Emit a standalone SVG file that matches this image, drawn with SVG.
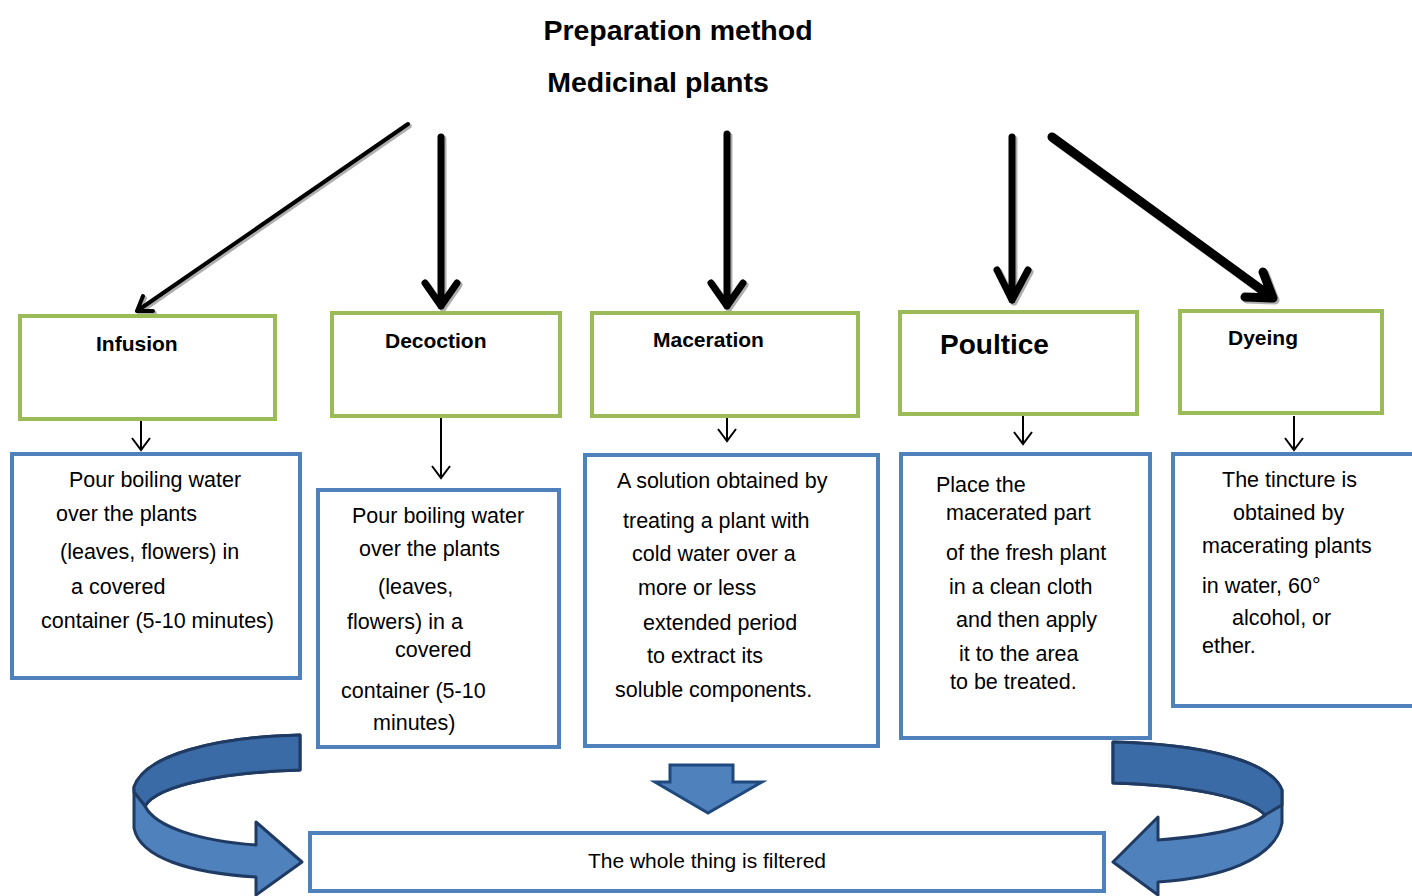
<svg xmlns="http://www.w3.org/2000/svg" width="1412" height="896" viewBox="0 0 1412 896">
<style>
.t{font-family:"Liberation Sans",Arial,sans-serif;font-size:21.5px;fill:#000}
.h{font-family:"Liberation Sans",Arial,sans-serif;font-weight:bold;font-size:21px;fill:#000}
.ttl{font-family:"Liberation Sans",Arial,sans-serif;font-weight:bold;font-size:28.5px;fill:#000}
.g{fill:#fff;stroke:#9bbb59;stroke-width:4}
.b{fill:#fff;stroke:#4f81bd;stroke-width:4}
.big{fill:none;stroke:#000;stroke-linecap:round;stroke-linejoin:round}
.sh{fill:none;stroke:#9a9a9a;stroke-linecap:round;stroke-linejoin:round;opacity:.8}
.sm{fill:none;stroke:#000;stroke-width:2}
.lt{fill:#4f81bd;stroke:#1f3b63;stroke-width:3;stroke-linejoin:round}
.dk{fill:#3b6ba6;stroke:#1f3b63;stroke-width:3;stroke-linejoin:round}
</style>
<rect width="1412" height="896" fill="#fff"/>
<text class="ttl" x="678" y="40" text-anchor="middle">Preparation method</text>
<text class="ttl" x="658" y="92" text-anchor="middle">Medicinal plants</text>

<g id="connectors">
  <g transform="translate(2,2)">
    <path class="sh" stroke-width="4" d="M408,124 L137,311 M143,296 L137,311 L153,311"/>
    <path class="sh" stroke-width="7" d="M441,137 L441,306 M425,283 L441,306 L457,283"/>
    <path class="sh" stroke-width="7" d="M727,134 L727,306 M711,283 L727,306 L743,283"/>
    <path class="sh" stroke-width="7" d="M1012,137 L1012,300 M997,270 L1012,300 L1028,270"/>
    <path class="sh" stroke-width="9" d="M1052,137 L1273,298 M1245,297 L1273,298 L1263,272"/>
  </g>
  <path class="big" stroke-width="4" d="M408,124 L137,311 M143,296 L137,311 L153,311"/>
  <path class="big" stroke-width="7" d="M441,137 L441,306 M425,283 L441,306 L457,283"/>
  <path class="big" stroke-width="7" d="M727,134 L727,306 M711,283 L727,306 L743,283"/>
  <path class="big" stroke-width="7" d="M1012,137 L1012,300 M997,270 L1012,300 L1028,270"/>
  <path class="big" stroke-width="9" d="M1052,137 L1273,298 M1245,297 L1273,298 L1263,272"/>

  <path class="sm" d="M141,421 L141,450 M132,438 L141,450 L150,438"/>
  <path class="sm" d="M441,418 L441,478 M432,466 L441,478 L450,466"/>
  <path class="sm" d="M727,408 L727,441 M718,429 L727,441 L736,429"/>
  <path class="sm" d="M1023,411 L1023,444 M1014,432 L1023,444 L1032,432"/>
  <path class="sm" d="M1294,416 L1294,450 M1285,438 L1294,450 L1303,438"/>

  <g id="curve-left">
    <path class="lt" d="M300,735 C215,737 145,755 134,787 L134,828 C140,858 190,873 256,877 L256,895 L302,862 L256,822 L256,845 C200,841 155,827 145,806 C158,784 230,772 300,770 Z"/>
    <path class="dk" d="M300,735 C215,737 145,755 134,787 L134,792 L145,806 C158,784 230,772 300,770 Z"/>
  </g>
  <g id="curve-right">
    <path class="lt" d="M1113,742 C1200,744 1270,760 1282,790 L1282,823 C1275,860 1220,878 1158,882 L1158,895 L1113,862 L1158,817 L1158,840 C1210,836 1250,828 1265,815 C1250,798 1190,785 1113,783 Z"/>
    <path class="dk" d="M1113,742 C1200,744 1270,760 1282,790 L1282,805 L1265,815 C1250,798 1190,785 1113,783 Z"/>
  </g>
  <path id="down-arrow" fill="#4f81bd" stroke="#1f497d" stroke-width="3" stroke-linejoin="miter" d="M670,765 L733,765 L733,782 L762,782 L708,813 L655,782 L670,782 Z"/>
</g>

<g id="infusion">
  <rect class="g" x="20" y="316" width="255" height="103"/>
  <text class="h" x="96" y="351">Infusion</text>
</g>
<g id="decoction">
  <rect class="g" x="332" y="313" width="228" height="103"/>
  <text class="h" x="385" y="348">Decoction</text>
</g>
<g id="maceration">
  <rect class="g" x="592" y="313" width="266" height="103"/>
  <text class="h" x="653" y="347">Maceration</text>
</g>
<g id="poultice">
  <rect class="g" x="900" y="312" width="237" height="102"/>
  <text class="h" style="font-size:28px" x="940" y="354">Poultice</text>
</g>
<g id="dyeing">
  <rect class="g" x="1180" y="311" width="202" height="102"/>
  <text class="h" x="1228" y="345">Dyeing</text>
</g>

<g id="infusion-desc">
  <rect class="b" x="12" y="454" width="288" height="224"/>
  <text class="t" x="69" y="487">Pour boiling water</text>
  <text class="t" x="56" y="521">over the plants</text>
  <text class="t" x="60" y="559">(leaves, flowers) in</text>
  <text class="t" x="71" y="594">a covered</text>
  <text class="t" x="41" y="628">container (5-10 minutes)</text>
</g>
<g id="decoction-desc">
  <rect class="b" x="318" y="490" width="241" height="257"/>
  <text class="t" x="352" y="523">Pour boiling water</text>
  <text class="t" x="359" y="556">over the plants</text>
  <text class="t" x="378" y="594">(leaves,</text>
  <text class="t" x="347" y="629">flowers) in a</text>
  <text class="t" x="395" y="657">covered</text>
  <text class="t" x="341" y="698">container (5-10</text>
  <text class="t" x="373" y="730">minutes)</text>
</g>
<g id="maceration-desc">
  <rect class="b" x="585" y="455" width="293" height="291"/>
  <text class="t" x="617" y="488">A solution obtained by</text>
  <text class="t" x="623" y="528">treating a plant with</text>
  <text class="t" x="632" y="561">cold water over a</text>
  <text class="t" x="638" y="595">more or less</text>
  <text class="t" x="643" y="630">extended period</text>
  <text class="t" x="647" y="663">to extract its</text>
  <text class="t" x="615" y="697">soluble components.</text>
</g>
<g id="poultice-desc">
  <rect class="b" x="901" y="454" width="249" height="284"/>
  <text class="t" x="936" y="492">Place the</text>
  <text class="t" x="946" y="520">macerated part</text>
  <text class="t" x="946" y="560">of the fresh plant</text>
  <text class="t" x="949" y="594">in a clean cloth</text>
  <text class="t" x="956" y="627">and then apply</text>
  <text class="t" x="959" y="661">it to the area</text>
  <text class="t" x="950" y="689">to be treated.</text>
</g>
<g id="dyeing-desc">
  <rect class="b" x="1173" y="454" width="260" height="252"/>
  <text class="t" x="1222" y="487">The tincture is</text>
  <text class="t" x="1233" y="520">obtained by</text>
  <text class="t" x="1202" y="553">macerating plants</text>
  <text class="t" x="1202" y="593">in water, 60°</text>
  <text class="t" x="1232" y="625">alcohol, or</text>
  <text class="t" x="1202" y="653">ether.</text>
</g>
<g id="filtered">
  <rect class="b" x="310" y="833" width="794" height="58"/>
  <text class="t" x="707" y="868" text-anchor="middle" style="font-size:21px">The whole thing is filtered</text>
</g>
</svg>
